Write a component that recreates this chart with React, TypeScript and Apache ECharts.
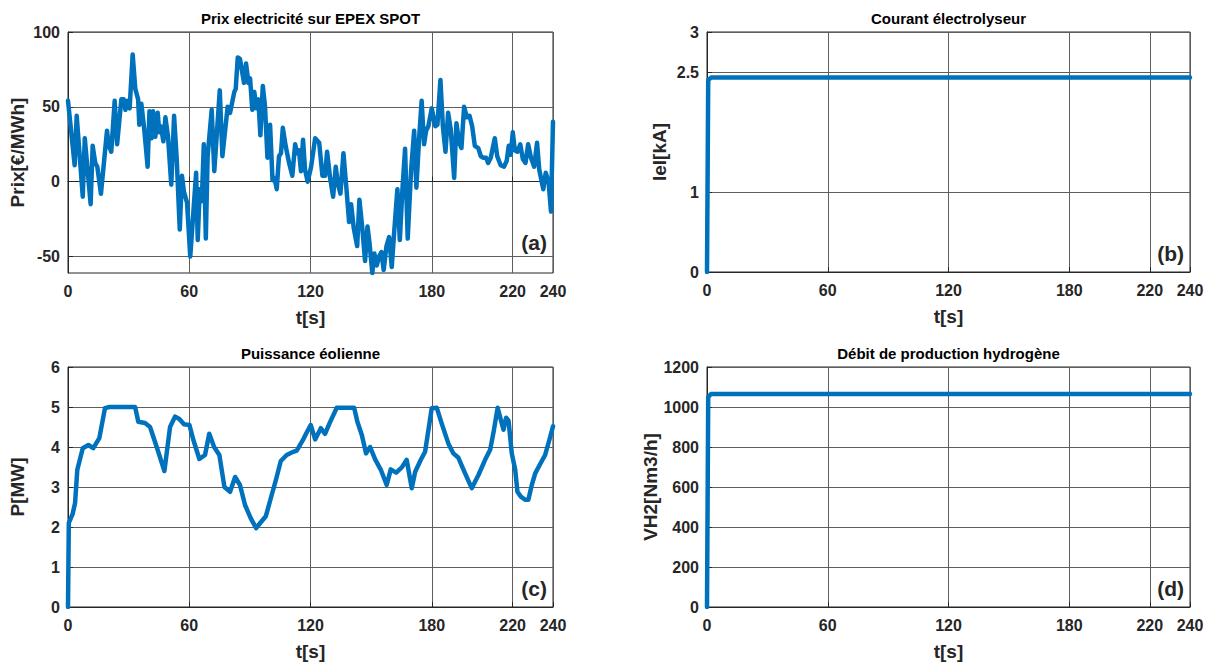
import React, { useEffect, useRef } from "react";
import * as echarts from "echarts";

const xTicks = [0, 60, 120, 180, 220, 240];

const priceTime = [
  0, 3.3, 4.3, 7.3, 8.3, 11.2, 12.2, 13.5, 14.5, 16.3, 19.3, 20.1, 21.4, 23.1, 24.3, 26.4, 27.6, 28.4, 29.5, 30.5,
  32.0, 33.3, 34.7, 35.3, 36.3, 37.8, 39.4, 40.3, 41.3, 42.1, 43.2, 44.4, 45.2, 46.0, 47.2, 48.2, 49.5, 51.1, 52.5,
  53.8, 55.3, 56.4, 57.4, 58.9, 60.5, 63.4, 64.2, 65.2, 66.2, 67.2, 68.2, 69.1, 71.1, 72.4, 75.1, 76.4, 79.0, 80.2,
  82.3, 83.0, 84.0, 85.1, 87.1, 88.1, 89.3, 90.1, 91.2, 92.2, 93.1, 94.2, 95.2, 96.4, 97.5, 98.7, 100.0, 101.2, 102.2,
  103.3, 104.4, 105.4, 106.3, 107.7, 109.4, 111.0, 112.4, 113.4, 114.3, 115.3, 116.3, 117.3, 118.6, 120.3, 122.3,
  124.3, 125.9, 127.2, 128.2, 129.7, 131.2, 132.5, 133.5, 134.8, 136.3, 137.8, 139.1, 140.1, 141.4, 143.1, 144.2,
  145.7, 147.0, 148.2, 149.2, 150.6, 151.6, 152.8, 153.9, 155.1, 156.2, 157.6, 158.9, 160.2, 161.5, 163.0, 164.2,
  165.5, 166.8, 168.1, 169.8, 171.3, 172.4, 173.7, 175.0, 176.2, 177.2, 178.3, 180.0, 181.8, 182.8, 184.3, 185.5,
  186.8, 188.1, 189.4, 191.1, 192.2, 193.6, 194.7, 196.0, 197.4, 198.7, 200.0, 201.3, 203.0, 204.3, 205.6, 206.9,
  207.9, 209.2, 211.2, 212.4, 214.1, 215.8, 217.1, 218.1, 219.1, 220.1, 221.1, 222.4, 223.8, 225.1, 226.4, 227.7,
  229.1, 230.7, 232.1, 233.2, 235.2, 236.4, 237.8, 239.0, 240,
];
const priceValues = [
  54, 11, 44, -10, 29, -15, 24, 12.5, 10, -8, 34, 25, 20, 54, 25, 55, 55, 48, 54, 49,
  85, 62, 55, 38, 52, 34, 10, 47, 29, 47, 30, 46, 33, 37, 27, 43, 30, -2, 44,
  15, -32, 4, -7, -14, -50, 6, -39, -5, -13, 25, -38, 17, 48, 7, 61, 17, 50, 46,
  60, 62, 83, 82, 66, 79, 66, 69, 48, 60, 49, 55, 31, 64, 50, 16, 38, 1, 2.5,
  -5, 17, 19, 36, 24, 12.5, 4, 25, 19, 21, 7, 28, 8, 0, 10, 29,
  26, 4, 4, 20, 2.5, -10, 10, -1, -8, 19, -5, -27, -15, -31, -43, -12,
  -32, -53, -30, -41, -61, -48, -56, -50, -47, -59, -43, -37, -57, -32, -5, -39,
  -5, 22, -38, 8, 34, -4, 28, 54, 25, 34, 37, 49, 37, 38, 68, 37,
  20, 46, 35, 2.5, 39, 26, 22.5, 50, 43, 44, 37, 24, 22.5, 17, 16, 16,
  12.5, 16, 29, 17, 11, 10, 14, 24, 18, 33, 21, 20, 25, 15, 12.5, 25,
  16, 10, 26, 8, -5, 6, 0, -20, 40,
];

const currentTime = [0, 0.6, 2, 240];
const currentValues = [0, 2.4, 2.43, 2.43];

const windTime = [
  0, 0.4, 2.3, 3.5, 4.6, 7.3, 10.1, 12.5, 15.5, 18.3, 20.5, 33.2, 34.8, 38.1, 40.6, 43.9, 47.7, 50.5, 53.0, 55.1,
  57.4, 60.1, 62.0, 65.0, 67.8, 69.9, 72.3, 74.9, 77.4, 80.2, 82.7, 85.1, 87.6, 90.4, 93.1, 95.1, 97.9, 100.8, 103.0,
  105.3, 108.2, 111.5, 113.2, 116.2, 117.8, 120.1, 122.3, 125.1, 127.2, 129.4, 133.0, 141.6, 143.2, 145.4, 147.5,
  149.5, 152.0, 154.8, 157.7, 159.7, 162.4, 165.2, 167.6, 170.1, 171.8, 174.6, 176.7, 180.0, 182.5, 184.9, 188.2,
  190.7, 193.2, 196.5, 199.8, 203.1, 206.4, 208.9, 210.6, 212.6, 214.2, 215.5, 216.8, 218.0, 219.6, 221.3, 222.4,
  224.1, 226.2, 227.8, 229.5, 231.2, 233.6, 236.1, 238.6, 240,
];
const windPower = [
  0, 2.1, 2.33, 2.6, 3.43, 3.97, 4.05, 3.97, 4.22, 4.97, 5, 5, 4.63, 4.6, 4.5, 4.0, 3.4, 4.5, 4.76, 4.7,
  4.57, 4.55, 4.18, 3.7, 3.8, 4.33, 4.0, 3.8, 3.0, 2.88, 3.25, 3.05, 2.55, 2.22, 1.97, 2.1, 2.27, 2.8, 3.2,
  3.65, 3.8, 3.88, 3.91, 4.17, 4.33, 4.55, 4.19, 4.47, 4.33, 4.59, 4.98, 4.98, 4.63, 4.3, 3.84,
  4.0, 3.69, 3.43, 3.05, 3.44, 3.36, 3.49, 3.68, 2.97, 3.38, 3.68, 3.88, 4.97, 4.98, 4.59, 4.09,
  3.84, 3.73, 3.34, 2.97, 3.3, 3.68, 3.93, 4.38, 4.98, 4.68, 4.43, 4.73, 4.66, 3.84, 3.43, 2.88,
  2.76, 2.68, 2.68, 3.05, 3.34, 3.57, 3.8, 4.25, 4.52,
];

const flowTime = [0, 0.6, 2, 240];
const flowValues = [0, 1050, 1065, 1065];

const priceTicks = [-50, 0, 50, 100];
const currentTicks = [0, 1, 2.5, 3];
const windTicks = [0, 1, 2, 3, 4, 5, 6];
const flowTicks = [0, 200, 400, 600, 800, 1000, 1200];

const titles = [
  "Prix electricité sur EPEX SPOT",
  "Courant électrolyseur",
  "Puissance éolienne",
  "Débit de production hydrogène",
];
const yNames = ["Prix[€/MWh]", "Iel[kA]", "P[MW]", "VH2[Nm3/h]"];
const panelTags = ["(a)", "(b)", "(c)", "(d)"];

const FONT = "'Liberation Sans', Arial, Helvetica, sans-serif";
const TXT = "#262626";
const GRID = "#5e5e5e";
const LINE = "#0072BD";

const zip = (xs: number[], ys: number[]) => xs.map((x, i) => [x, ys[i]]);

export default function App() {
  const ref = useRef<HTMLDivElement>(null);

  useEffect(() => {
    document.body.style.margin = "0";
    if (!ref.current) return;
    const chart = echarts.init(ref.current, undefined, { renderer: "svg" });

    const grids = [
      { left: 68, top: 32, width: 485, height: 241 },
      { left: 707, top: 32, width: 483, height: 240 },
      { left: 68, top: 367, width: 485, height: 240 },
      { left: 707, top: 367, width: 483, height: 240 },
    ];
    const yCfg = [
      { min: -61, max: 100, ticks: priceTicks },
      { min: 0, max: 3, ticks: currentTicks },
      { min: 0, max: 6, ticks: windTicks },
      { min: 0, max: 1200, ticks: flowTicks },
    ];
    const datasets = [
      zip(priceTime, priceValues),
      zip(currentTime, currentValues),
      zip(windTime, windPower),
      zip(flowTime, flowValues),
    ];

    const labelStyle = {
      color: TXT,
      fontSize: 16,
      fontWeight: "bold" as const,
      fontFamily: FONT,
      formatter: (v: number) => String(v),
    };

    const option: any = {
      animation: false,
      backgroundColor: "#ffffff",
      grid: grids.map((g) => ({
        ...g,
        show: true,
        borderColor: TXT,
        borderWidth: 1,
        backgroundColor: "transparent",
      })),
      xAxis: grids.map((_, i) => ({
        type: "value",
        gridIndex: i,
        min: 0,
        max: 240,
        axisLine: { show: true, lineStyle: { color: TXT, width: 1 } },
        axisTick: {
          show: true,
          inside: true,
          length: 5,
          customValues: xTicks,
          lineStyle: { color: TXT },
        },
        axisLabel: { ...labelStyle, customValues: xTicks, margin: 10 },
        splitLine: { show: true, lineStyle: { color: GRID, width: 1 } },
        name: "t[s]",
        nameLocation: "middle",
        nameGap: 35,
        nameTextStyle: { color: TXT, fontSize: 19, fontWeight: "bold", fontFamily: FONT },
      })),
      yAxis: grids.map((_, i) => ({
        type: "value",
        gridIndex: i,
        min: yCfg[i].min,
        max: yCfg[i].max,
        axisLine: { show: true, lineStyle: { color: TXT, width: 1 } },
        axisTick: {
          show: true,
          inside: true,
          length: 5,
          customValues: yCfg[i].ticks,
          lineStyle: { color: TXT },
        },
        axisLabel: { ...labelStyle, customValues: yCfg[i].ticks, margin: 8 },
        splitLine: { show: true, lineStyle: { color: GRID, width: 1 } },
        name: yNames[i],
        nameLocation: "middle",
        nameGap: i === 0 || i === 2 ? 41 : 38,
        nameTextStyle: { color: TXT, fontSize: 19, fontWeight: "bold", fontFamily: FONT },
      })),
      series: datasets.map((d, i) => ({
        type: "line",
        xAxisIndex: i,
        yAxisIndex: i,
        data: d,
        showSymbol: false,
        symbol: "none",
        clip: true,
        lineStyle: { color: LINE, width: 4.5, join: "round", cap: "round" },
      })),
      graphic: [
        ...grids.map((g, i) => ({
          type: "text",
          x: g.left + g.width / 2,
          y: g.top - 14,
          style: {
            text: titles[i],
            align: "center",
            verticalAlign: "middle",
            textAlign: "center",
            textVerticalAlign: "middle",
            fontSize: 15,
            fontWeight: "bold",
            fontFamily: FONT,
            fill: "#000000",
          },
        })),
        ...grids.map((g, i) => ({
          type: "text",
          x: g.left + g.width - 6,
          y: g.top + g.height - (i === 0 ? 31 : 19),
          style: {
            text: panelTags[i],
            align: "right",
            verticalAlign: "middle",
            textAlign: "right",
            textVerticalAlign: "middle",
            fontSize: 21,
            fontWeight: "bold",
            fontFamily: FONT,
            fill: TXT,
          },
        })),
      ],
    };

    chart.setOption(option);
    return () => chart.dispose();
  }, []);

  return <div ref={ref} style={{ width: 1213, height: 662 }} />;
}
